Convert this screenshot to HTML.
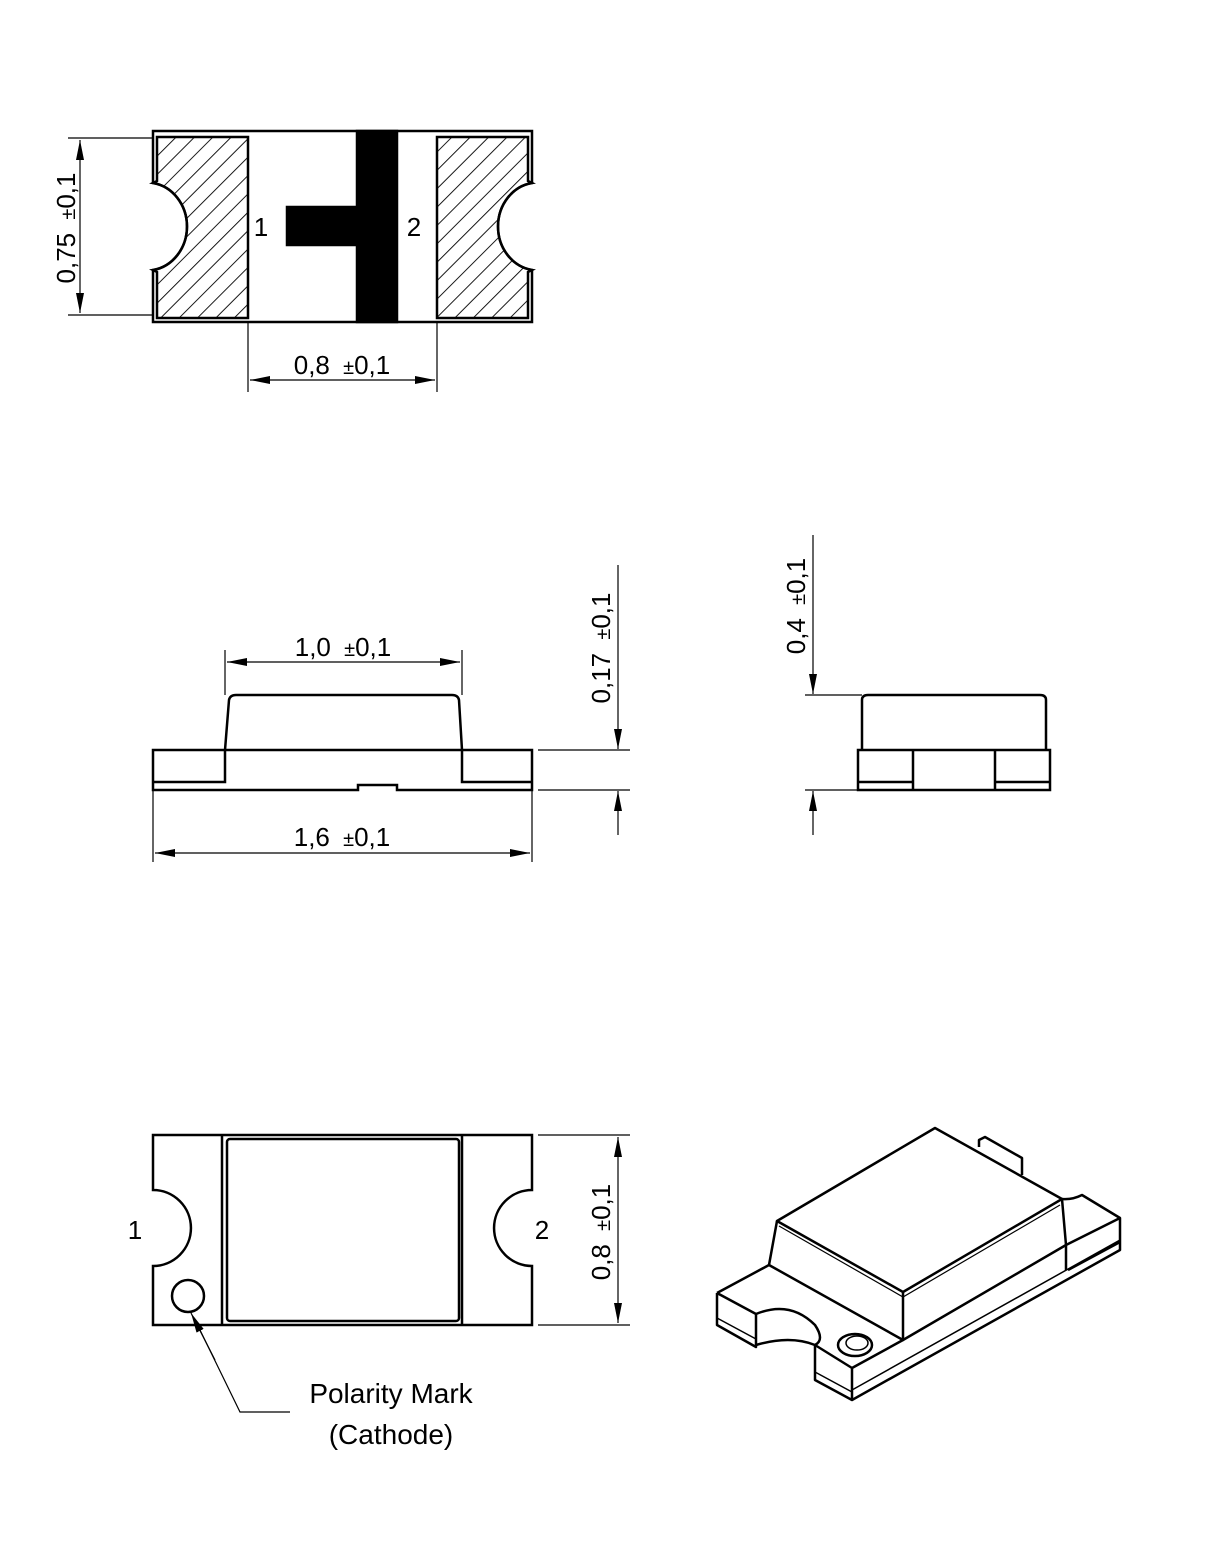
<!DOCTYPE html>
<html><head><meta charset="utf-8"><style>
html,body{margin:0;padding:0;background:#fff}
svg{display:block}
text{font-family:"Liberation Sans",sans-serif;fill:#000}
</style></head><body>
<svg width="1229" height="1558" viewBox="0 0 1229 1558" xmlns="http://www.w3.org/2000/svg">
<defs>
<pattern id="h" width="13" height="13" patternUnits="userSpaceOnUse" patternTransform="rotate(45)">
<line x1="0" y1="0" x2="0" y2="13" stroke="#000" stroke-width="1.8"/>
</pattern>
<marker id="a" viewBox="0 0 20 8" refX="20" refY="4" markerWidth="20" markerHeight="8" markerUnits="userSpaceOnUse" orient="auto"><path d="M0,0 L20,4 L0,8 z" fill="#000"/></marker>
</defs>
<g fill="none" stroke="#000" stroke-width="2.5">
<!-- TOP VIEW -->
<path d="M153,131 H532 V183 A40,44 0 0 0 532,270 V322 H153 V270 A40,44 0 0 0 153,183 Z"/>
<path d="M157,137 H248 V318 H157 V272 L153,270 A40,44 0 0 0 153,183 L157,181 Z" fill="url(#h)"/>
<path d="M528,137 H437 V318 H528 V272 L532,270 A40,44 0 0 1 532,183 L528,181 Z" fill="url(#h)"/>
<rect x="357" y="131" width="40" height="191" fill="#000"/>
<rect x="287" y="207" width="70" height="38" fill="#000"/>
</g>
<g stroke="#000" stroke-width="1.2" fill="none">
<path d="M153,138 H68 M153,315 H68"/>
<line x1="80" y1="226" x2="80" y2="140" marker-end="url(#a)"/>
<line x1="80" y1="226" x2="80" y2="313" marker-end="url(#a)"/>
<path d="M248,322 V392 M437,322 V392"/>
<line x1="342" y1="380" x2="250" y2="380" marker-end="url(#a)"/>
<line x1="342" y1="380" x2="435" y2="380" marker-end="url(#a)"/>
</g>
<text x="261" y="236" font-size="26" text-anchor="middle">1</text>
<text x="414" y="236" font-size="26" text-anchor="middle">2</text>
<text transform="translate(75,228) rotate(-90)" font-size="26" text-anchor="middle">0,75 <tspan dx="6" font-size="20">±</tspan>0,1</text>
<text x="342" y="374" font-size="26" text-anchor="middle">0,8 <tspan dx="6" font-size="20">±</tspan>0,1</text>

<!-- SIDE VIEW -->
<g fill="none" stroke="#000" stroke-width="2.5">
<path d="M225,750 L229,700 Q230,695 236,695 H452 Q458,695 459,700 L462,750"/>
<path d="M153,750 H532 V790 H397 V785 H358 V790 H153 Z"/>
<path d="M153,782 H225 V750 M532,782 H462 V750"/>
<path d="M862,750 V700 Q862,695 868,695 H1040 Q1046,695 1046,700 V750"/>
<rect x="858" y="750" width="192" height="40"/>
<path d="M913,750 V790 M995,750 V790 M858,782 H913 M995,782 H1050"/>
</g>
<g stroke="#000" stroke-width="1.2" fill="none">
<path d="M225,695 V650 M462,695 V650"/>
<line x1="343" y1="662" x2="227" y2="662" marker-end="url(#a)"/>
<line x1="343" y1="662" x2="460" y2="662" marker-end="url(#a)"/>
<path d="M153,790 V862 M532,790 V862"/>
<line x1="342" y1="853" x2="155" y2="853" marker-end="url(#a)"/>
<line x1="342" y1="853" x2="530" y2="853" marker-end="url(#a)"/>
<path d="M538,750 H630 M538,790 H630"/>
<line x1="618" y1="565" x2="618" y2="749" marker-end="url(#a)"/>
<line x1="618" y1="835" x2="618" y2="791" marker-end="url(#a)"/>
<path d="M805,695 H862 M805,790 H858"/>
<line x1="813" y1="535" x2="813" y2="694" marker-end="url(#a)"/>
<line x1="813" y1="835" x2="813" y2="791" marker-end="url(#a)"/>
</g>
<text x="343" y="656" font-size="26" text-anchor="middle">1,0 <tspan dx="6" font-size="20">±</tspan>0,1</text>
<text x="342" y="846" font-size="26" text-anchor="middle">1,6 <tspan dx="6" font-size="20">±</tspan>0,1</text>
<text transform="translate(610,648) rotate(-90)" font-size="26" text-anchor="middle">0,17 <tspan dx="6" font-size="20">±</tspan>0,1</text>
<text transform="translate(805,606) rotate(-90)" font-size="26" text-anchor="middle">0,4 <tspan dx="6" font-size="20">±</tspan>0,1</text>

<!-- BOTTOM VIEW -->
<g fill="none" stroke="#000" stroke-width="2.5">
<path d="M153,1135 H532 V1190 A38,38 0 0 0 532,1266 V1325 H153 V1266 A38,38 0 0 0 153,1190 Z"/>
<path d="M222,1135 V1325 M462,1135 V1325"/>
<rect x="227" y="1139" width="232" height="182" rx="3"/>
<circle cx="188" cy="1296" r="16"/>
</g>
<g stroke="#000" stroke-width="1.2" fill="none">
<path d="M538,1135 H630 M538,1325 H630"/>
<line x1="618" y1="1230" x2="618" y2="1137" marker-end="url(#a)"/>
<line x1="618" y1="1230" x2="618" y2="1323" marker-end="url(#a)"/>
<path d="M290,1412 H240 L200,1330"/>
<line x1="215" y1="1360" x2="191" y2="1313" marker-end="url(#a)"/>
</g>
<text x="135" y="1239" font-size="26" text-anchor="middle">1</text>
<text x="542" y="1239" font-size="26" text-anchor="middle">2</text>
<text transform="translate(610,1232) rotate(-90)" font-size="26" text-anchor="middle">0,8 <tspan dx="6" font-size="20">±</tspan>0,1</text>
<text x="391" y="1403" font-size="28" text-anchor="middle">Polarity Mark</text>
<text x="391" y="1444" font-size="28" text-anchor="middle">(Cathode)</text>

<!-- ISOMETRIC -->
<g fill="none" stroke="#000" stroke-width="2.5" stroke-linejoin="round">
<path d="M777,1221 L935,1128 L1062,1199 L903,1292 Z"/>
<path d="M777,1221 L769,1265 M903,1292 V1340 M1062,1199 L1066,1245"/>
<path d="M769,1265 L903,1340 L1066,1245"/>
<path d="M979,1147 V1140 L985,1137 L1022,1158 V1175"/>
<path d="M717,1293 L769,1265 M717,1293 L756,1314 M717,1293 V1325 L756,1347 V1314"/>
<path d="M717,1318 L756,1339" stroke-width="1.5"/>
<path d="M756,1314 Q790,1300 815,1325 Q825,1340 815,1345 M756,1345 Q790,1335 815,1345"/>
<path d="M815,1345 L852,1368 L903,1340 M815,1345 V1380 L852,1400 V1368"/>
<path d="M815,1372 L852,1392" stroke-width="1.5"/>
<path d="M852,1400 L1120,1250 V1218 L1082,1195 Q1072,1200 1062,1199"/>
<path d="M852,1390 L1120,1240" stroke-width="1.5"/>
<path d="M1066,1245 L1120,1218 M1068,1270 L1120,1242 M1066,1245 V1270"/>
<ellipse cx="855" cy="1345" rx="17" ry="11"/>
<ellipse cx="857" cy="1343" rx="11" ry="7" stroke-width="1.5"/>
</g>
<g fill="none" stroke="#000" stroke-width="1.2">
<path d="M779,1226 L903,1297 L1060,1205"/>
<path d="M903,1297 V1338"/>
</g>
</svg>
</body></html>
